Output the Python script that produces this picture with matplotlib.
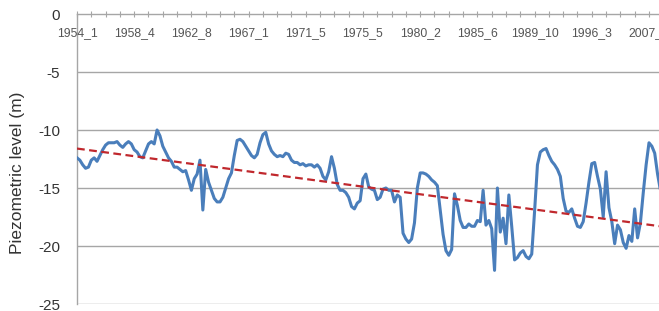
import numpy as np
import matplotlib
matplotlib.use("Agg")
import matplotlib.pyplot as plt

# Piezometric level readings, one value per observation (category axis)
LEVELS = [
    -12.4, -12.6, -13.0, -13.3, -13.2, -12.6, -12.4, -12.7, -12.2, -11.7,
    -11.3, -11.1, -11.1, -11.1, -11.0, -11.3, -11.5, -11.2, -11.0, -11.2,
    -11.7, -11.9, -12.3, -12.4, -11.8, -11.2, -11.0, -11.2, -10.0, -10.5,
    -11.4, -11.9, -12.4, -12.7, -13.2, -13.2, -13.4, -13.6, -13.5, -14.3,
    -15.2, -14.2, -13.8, -12.6, -16.9, -13.4, -14.5, -15.2, -15.9, -16.2,
    -16.2, -15.8, -15.0, -14.2, -13.7, -12.2, -10.9, -10.8, -11.0, -11.4,
    -11.8, -12.2, -12.4, -12.1, -11.1, -10.4, -10.2, -11.2, -11.8, -12.1,
    -12.3, -12.2, -12.3, -12.0, -12.1, -12.6, -12.8, -12.8, -13.0, -12.9,
    -13.1, -13.0, -13.0, -13.2, -13.0, -13.3, -14.0, -14.3, -13.6, -12.3,
    -13.3, -14.7, -15.2, -15.2, -15.4, -15.8, -16.6, -16.8, -16.3, -16.1,
    -14.2, -13.8, -14.9, -15.1, -15.2, -16.0, -15.8, -15.1, -15.0, -15.2,
    -15.2, -16.2, -15.6, -15.8, -18.9, -19.4, -19.7, -19.4, -18.0, -15.0,
    -13.7, -13.7, -13.8, -14.0, -14.3, -14.5, -14.8, -16.9, -19.0, -20.4,
    -20.8, -20.3, -15.5, -16.5, -17.8, -18.4, -18.4, -18.1, -18.3, -18.3,
    -17.8, -17.9, -15.2, -18.2, -17.8, -18.5, -22.1, -15.0, -18.8, -17.6,
    -19.8, -15.6, -18.3, -21.2, -21.0, -20.6, -20.4, -20.9, -21.1, -20.7,
    -17.0, -13.0, -11.9, -11.7, -11.6, -12.2, -12.7, -13.0, -13.4, -14.0,
    -15.9, -17.0, -17.1, -16.8, -17.6, -18.3, -18.4, -17.9, -16.3, -14.5,
    -12.9, -12.8, -14.0, -15.1, -17.5, -13.6, -16.7, -17.9, -19.8, -18.2,
    -18.6, -19.7, -20.2, -19.1, -19.6, -16.8, -19.3, -18.0, -15.4, -13.0,
    -11.1, -11.4, -12.0, -13.8, -15.2,
]

# Category labels shown on the axis (every 20th observation)
DATE_LABELS = ["1954_1", "1958_4", "1962_8", "1967_1", "1971_5", "1975_5",
               "1980_2", "1985_6", "1989_10", "1996_3", "2007_1"]
LABEL_STEP = 20

# Linear trend, value at first and last observation
TREND = [-11.6, -18.3]

BLUE = "#4a7ebb"
RED = "#c0282d"
GRID = "#a6a6a6"

plt.rcParams['font.family'] = ['Liberation Sans', 'DejaVu Sans']

fig = plt.figure(figsize=(6.59, 3.11), dpi=100)
ax = fig.add_axes([77 / 659, 7 / 311, 1 - 77 / 659, 290 / 311])

x = np.arange(len(LEVELS))
ax.plot(x, LEVELS, color=BLUE, lw=2.2, solid_joinstyle="round", zorder=3)
ax.plot([0, len(LEVELS) - 1], TREND, color=RED, lw=1.6,
        linestyle=(0, (3.5, 2)), zorder=4)

ax.set_xlim(0, 203.5)
ax.set_ylim(-25, 0)

# gridlines
for v in [-5, -10, -15, -20, -25]:
    ax.axhline(v, color=GRID, lw=1.0, zorder=1)

for s in ["top", "bottom", "right"]:
    ax.spines[s].set_visible(False)
ax.spines["left"].set_color(GRID)
ax.spines["left"].set_linewidth(1.0)

# x axis sits at y = 0 (top), labels just below it
ax.axhline(0, color=GRID, lw=1.0, zorder=2, clip_on=False)
ax.xaxis.set_ticks_position("top")
ax.set_xticks(np.arange(0, 205, 5))
ax.tick_params(axis="x", direction="inout", length=4, color=GRID,
               labeltop=False, labelbottom=False)
for i, lab in enumerate(DATE_LABELS):
    ax.text(i * LABEL_STEP, -1.65, lab, ha="center", va="center",
            fontsize=8.8, color="#555555", clip_on=False)

ax.set_yticks([0, -5, -10, -15, -20, -25])
ax.set_yticklabels(["0", "-5", "-10", "-15", "-20", "-25"])
ax.tick_params(axis="y", length=0, pad=12, labelsize=11, colors="#333333")

fig.text(18 / 659, 1 - 173 / 311, "Piezometric level (m)", rotation=90,
         ha="center", va="center", fontsize=12.5, color="#333333")

fig.savefig("out.png", dpi=100)
